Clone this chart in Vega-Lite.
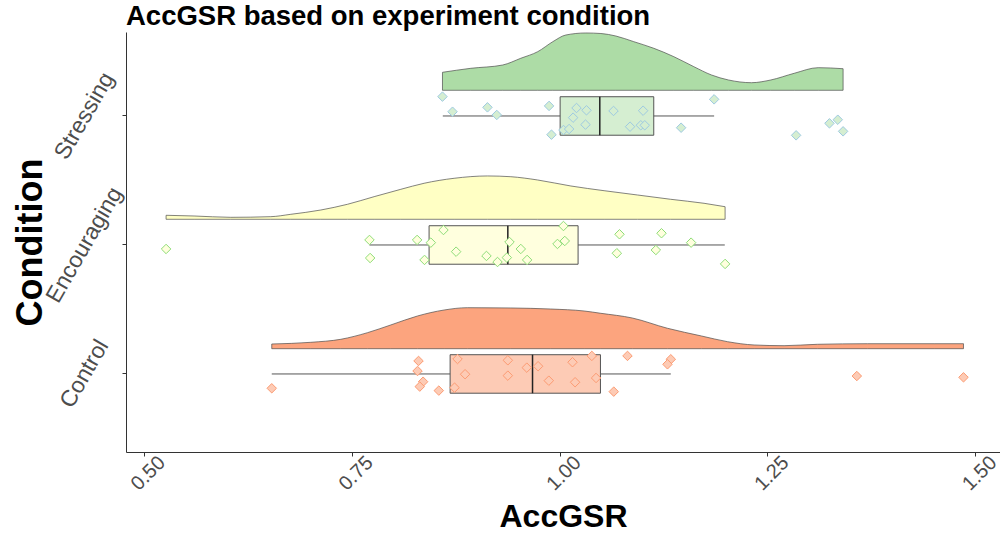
{
  "$schema": "https://vega.github.io/schema/vega-lite/v6.json",
  "width": 874,
  "height": 420,
  "autosize": "none",
  "padding": {"left": 126, "top": 32, "right": 0, "bottom": 84},
  "title": {"text": "AccGSR based on experiment condition", "anchor": "start", "frame": "group", "fontSize": 27.5, "fontWeight": "bold", "color": "#000000", "font": "Liberation Sans", "offset": 1},
  "config": {
    "view": {"stroke": null},
    "font": "Liberation Sans",
    "axisX": {"grid": false, "labelAngle": -45, "labelAlign": "center", "labelBaseline": "middle", "labelPadding": 17, "labelOffset": 4, "labelFontSize": 20, "labelColor": "#4D4D4D", "tickSize": 4, "tickColor": "#333333", "domainColor": "#333333", "titleFontSize": 32, "titleFontWeight": "bold", "titleColor": "#000000", "titlePadding": 8},
    "axisY": {"grid": false, "labelAngle": -60, "labelAlign": "center", "labelBaseline": "middle", "labelPadding": 38, "labelFontSize": 23, "labelColor": "#4D4D4D", "labelOverlap": false, "tickSize": 4, "tickColor": "#333333", "domainColor": "#333333", "titleFontSize": 36, "titleFontWeight": "bold", "titleColor": "#000000", "titleX": -96, "titleY": 210, "titleBaseline": "middle", "titleAlign": "center", "titleAngle": -90}
  },
  "datasets": {
    "points": [
      {"condition": "Control", "AccGSR": 0.6539, "jitter": -0.111},
      {"condition": "Control", "AccGSR": 0.8304, "jitter": 0.101},
      {"condition": "Control", "AccGSR": 0.8292, "jitter": 0.023},
      {"condition": "Control", "AccGSR": 0.8359, "jitter": -0.06},
      {"condition": "Control", "AccGSR": 0.8319, "jitter": -0.098},
      {"condition": "Control", "AccGSR": 0.8548, "jitter": -0.129},
      {"condition": "Control", "AccGSR": 0.8773, "jitter": 0.116},
      {"condition": "Control", "AccGSR": 0.8864, "jitter": -0.002},
      {"condition": "Control", "AccGSR": 0.8737, "jitter": -0.106},
      {"condition": "Control", "AccGSR": 0.9378, "jitter": 0.106},
      {"condition": "Control", "AccGSR": 0.9378, "jitter": -0.013},
      {"condition": "Control", "AccGSR": 0.9606, "jitter": 0.049},
      {"condition": "Control", "AccGSR": 0.9742, "jitter": 0.06},
      {"condition": "Control", "AccGSR": 0.9871, "jitter": -0.052},
      {"condition": "Control", "AccGSR": 1.0156, "jitter": 0.091},
      {"condition": "Control", "AccGSR": 1.0187, "jitter": -0.064},
      {"condition": "Control", "AccGSR": 1.0388, "jitter": 0.14},
      {"condition": "Control", "AccGSR": 1.0439, "jitter": -0.031},
      {"condition": "Control", "AccGSR": 1.0652, "jitter": -0.137},
      {"condition": "Control", "AccGSR": 1.0817, "jitter": 0.14},
      {"condition": "Control", "AccGSR": 1.1338, "jitter": 0.114},
      {"condition": "Control", "AccGSR": 1.1298, "jitter": 0.075},
      {"condition": "Control", "AccGSR": 1.3575, "jitter": -0.016},
      {"condition": "Control", "AccGSR": 1.4858, "jitter": -0.026},
      {"condition": "Encouraging", "AccGSR": 0.5268, "jitter": -0.031},
      {"condition": "Encouraging", "AccGSR": 0.7714, "jitter": 0.039},
      {"condition": "Encouraging", "AccGSR": 0.7722, "jitter": -0.101},
      {"condition": "Encouraging", "AccGSR": 0.8287, "jitter": 0.039},
      {"condition": "Encouraging", "AccGSR": 0.8376, "jitter": -0.116},
      {"condition": "Encouraging", "AccGSR": 0.8452, "jitter": 0.018},
      {"condition": "Encouraging", "AccGSR": 0.8604, "jitter": 0.116},
      {"condition": "Encouraging", "AccGSR": 0.8756, "jitter": -0.052},
      {"condition": "Encouraging", "AccGSR": 0.9121, "jitter": -0.085},
      {"condition": "Encouraging", "AccGSR": 0.9254, "jitter": -0.132},
      {"condition": "Encouraging", "AccGSR": 0.9366, "jitter": -0.098},
      {"condition": "Encouraging", "AccGSR": 0.9398, "jitter": 0.023},
      {"condition": "Encouraging", "AccGSR": 0.9534, "jitter": -0.031},
      {"condition": "Encouraging", "AccGSR": 0.961, "jitter": -0.116},
      {"condition": "Encouraging", "AccGSR": 1.0047, "jitter": 0.147},
      {"condition": "Encouraging", "AccGSR": 0.9975, "jitter": 0.008},
      {"condition": "Encouraging", "AccGSR": 1.0063, "jitter": 0.031},
      {"condition": "Encouraging", "AccGSR": 1.0721, "jitter": 0.083},
      {"condition": "Encouraging", "AccGSR": 1.0689, "jitter": -0.064},
      {"condition": "Encouraging", "AccGSR": 1.1226, "jitter": 0.091},
      {"condition": "Encouraging", "AccGSR": 1.1158, "jitter": -0.039},
      {"condition": "Encouraging", "AccGSR": 1.1582, "jitter": 0.018},
      {"condition": "Encouraging", "AccGSR": 1.1991, "jitter": -0.147},
      {"condition": "Stressing", "AccGSR": 0.8592, "jitter": 0.15},
      {"condition": "Stressing", "AccGSR": 0.8713, "jitter": 0.033},
      {"condition": "Stressing", "AccGSR": 0.9133, "jitter": 0.067},
      {"condition": "Stressing", "AccGSR": 0.9245, "jitter": 0.008},
      {"condition": "Stressing", "AccGSR": 0.9874, "jitter": 0.078},
      {"condition": "Stressing", "AccGSR": 0.9903, "jitter": -0.145},
      {"condition": "Stressing", "AccGSR": 1.0047, "jitter": -0.109},
      {"condition": "Stressing", "AccGSR": 1.0115, "jitter": -0.101},
      {"condition": "Stressing", "AccGSR": 1.0163, "jitter": -0.013},
      {"condition": "Stressing", "AccGSR": 1.0204, "jitter": 0.062},
      {"condition": "Stressing", "AccGSR": 1.0324, "jitter": 0.044},
      {"condition": "Stressing", "AccGSR": 1.0312, "jitter": -0.067},
      {"condition": "Stressing", "AccGSR": 1.0649, "jitter": 0.039},
      {"condition": "Stressing", "AccGSR": 1.0848, "jitter": -0.083},
      {"condition": "Stressing", "AccGSR": 1.1005, "jitter": 0.041},
      {"condition": "Stressing", "AccGSR": 1.0977, "jitter": -0.072},
      {"condition": "Stressing", "AccGSR": 1.1025, "jitter": -0.072},
      {"condition": "Stressing", "AccGSR": 1.1859, "jitter": 0.129},
      {"condition": "Stressing", "AccGSR": 1.1462, "jitter": -0.091},
      {"condition": "Stressing", "AccGSR": 1.2845, "jitter": -0.15},
      {"condition": "Stressing", "AccGSR": 1.3246, "jitter": -0.057},
      {"condition": "Stressing", "AccGSR": 1.3346, "jitter": -0.029},
      {"condition": "Stressing", "AccGSR": 1.341, "jitter": -0.119}
    ],
    "box": [
      {"condition": "Control", "lower": 0.6539, "q1": 0.8684, "median": 0.9675, "q3": 1.0492, "upper": 1.1338},
      {"condition": "Encouraging", "lower": 0.7714, "q1": 0.8431, "median": 0.9378, "q3": 1.0223, "upper": 1.1987},
      {"condition": "Stressing", "lower": 0.8596, "q1": 1.0007, "median": 1.0484, "q3": 1.1133, "upper": 1.1859}
    ],
    "densControl": [
      {"AccGSR": 0.6539, "density": 0.081},
      {"AccGSR": 0.7008, "density": 0.11},
      {"AccGSR": 0.7369, "density": 0.162},
      {"AccGSR": 0.769, "density": 0.276},
      {"AccGSR": 0.797, "density": 0.409},
      {"AccGSR": 0.8292, "density": 0.564},
      {"AccGSR": 0.8612, "density": 0.667},
      {"AccGSR": 0.8893, "density": 0.707},
      {"AccGSR": 0.9414, "density": 0.702},
      {"AccGSR": 0.9895, "density": 0.684},
      {"AccGSR": 1.0295, "density": 0.65},
      {"AccGSR": 1.0497, "density": 0.61},
      {"AccGSR": 1.0875, "density": 0.529},
      {"AccGSR": 1.1298, "density": 0.352},
      {"AccGSR": 1.1707, "density": 0.219},
      {"AccGSR": 1.202, "density": 0.121},
      {"AccGSR": 1.234, "density": 0.064},
      {"AccGSR": 1.27, "density": 0.052},
      {"AccGSR": 1.3102, "density": 0.076},
      {"AccGSR": 1.3703, "density": 0.086},
      {"AccGSR": 1.4505, "density": 0.086},
      {"AccGSR": 1.4858, "density": 0.086}
    ],
    "densEncouraging": [
      {"AccGSR": 0.5268, "density": 0.069},
      {"AccGSR": 0.5605, "density": 0.057},
      {"AccGSR": 0.6046, "density": 0.034},
      {"AccGSR": 0.6527, "density": 0.045},
      {"AccGSR": 0.6768, "density": 0.086},
      {"AccGSR": 0.7129, "density": 0.16},
      {"AccGSR": 0.745, "density": 0.259},
      {"AccGSR": 0.777, "density": 0.39},
      {"AccGSR": 0.8091, "density": 0.517},
      {"AccGSR": 0.8371, "density": 0.621},
      {"AccGSR": 0.8732, "density": 0.707},
      {"AccGSR": 0.9134, "density": 0.747},
      {"AccGSR": 0.9414, "density": 0.734},
      {"AccGSR": 0.9735, "density": 0.678},
      {"AccGSR": 1.0136, "density": 0.574},
      {"AccGSR": 1.0536, "density": 0.493},
      {"AccGSR": 1.0937, "density": 0.419},
      {"AccGSR": 1.1335, "density": 0.345},
      {"AccGSR": 1.1738, "density": 0.276},
      {"AccGSR": 1.1991, "density": 0.217}
    ],
    "densStressing": [
      {"AccGSR": 0.8592, "density": 0.31},
      {"AccGSR": 0.8933, "density": 0.379},
      {"AccGSR": 0.9317, "density": 0.436},
      {"AccGSR": 0.9534, "density": 0.552},
      {"AccGSR": 0.9738, "density": 0.666},
      {"AccGSR": 0.9919, "density": 0.838},
      {"AccGSR": 1.0075, "density": 0.953},
      {"AccGSR": 1.0316, "density": 0.988},
      {"AccGSR": 1.0497, "density": 0.979},
      {"AccGSR": 1.0677, "density": 0.936},
      {"AccGSR": 1.0893, "density": 0.838},
      {"AccGSR": 1.1134, "density": 0.724},
      {"AccGSR": 1.1375, "density": 0.579},
      {"AccGSR": 1.1615, "density": 0.407},
      {"AccGSR": 1.1827, "density": 0.264},
      {"AccGSR": 1.2031, "density": 0.178},
      {"AccGSR": 1.2308, "density": 0.131},
      {"AccGSR": 1.2541, "density": 0.178},
      {"AccGSR": 1.2822, "density": 0.293},
      {"AccGSR": 1.3111, "density": 0.39},
      {"AccGSR": 1.341, "density": 0.372}
    ]
  },
  "resolve": {"scale": {"y": "independent"}, "axis": {"y": "independent"}},
  "layer": [
    {
      "data": {"name": "densControl"},
      "mark": {"type": "area", "orient": "vertical", "interpolate": "monotone", "fill": "#FCA47E", "stroke": "#4D4D4D", "strokeWidth": 0.7},
      "encoding": {
        "x": {"field": "AccGSR", "type": "quantitative", "title": "AccGSR", "scale": {"domain": [0.4786, 1.5297], "nice": false, "zero": false}, "axis": {"values": [0.5, 0.75, 1, 1.25, 1.5], "format": ".2f"}},
        "y": {"field": "density", "type": "quantitative", "axis": null, "scale": {"domain": [-1.781, 5.46], "nice": false, "zero": false}},
        "y2": {"datum": 0}
      }
    },
    {
      "data": {"name": "densEncouraging"},
      "mark": {"type": "area", "orient": "vertical", "interpolate": "monotone", "fill": "#FFFFC4", "stroke": "#4D4D4D", "strokeWidth": 0.7},
      "encoding": {
        "x": {"field": "AccGSR", "type": "quantitative", "title": "AccGSR"},
        "y": {"field": "density", "type": "quantitative", "axis": null, "scale": {"domain": [-4.012, 3.229], "nice": false, "zero": false}},
        "y2": {"datum": 0}
      }
    },
    {
      "data": {"name": "densStressing"},
      "mark": {"type": "area", "orient": "vertical", "interpolate": "monotone", "fill": "#ADDCA6", "stroke": "#4D4D4D", "strokeWidth": 0.7},
      "encoding": {
        "x": {"field": "AccGSR", "type": "quantitative", "title": "AccGSR"},
        "y": {"field": "density", "type": "quantitative", "axis": null, "scale": {"domain": [-6.236, 1.005], "nice": false, "zero": false}},
        "y2": {"datum": 0}
      }
    },
    {
      "data": {"name": "box"},
      "mark": {"type": "rule", "color": "#555555", "strokeWidth": 1},
      "encoding": {
        "x": {"field": "lower", "type": "quantitative", "title": "AccGSR"},
        "x2": {"field": "upper"},
        "y": {"field": "condition", "type": "nominal", "bandPosition": 0.5, "axis": null, "scale": {"type": "band", "domain": ["Stressing", "Encouraging", "Control"], "paddingInner": 0, "paddingOuter": 0.128, "align": 0.59}}
      }
    },
    {
      "data": {"name": "box"},
      "mark": {"type": "bar", "height": 38.5, "stroke": "#555555", "strokeWidth": 1},
      "encoding": {
        "x": {"field": "q1", "type": "quantitative", "title": "AccGSR"},
        "x2": {"field": "q3"},
        "y": {"field": "condition", "type": "nominal", "title": "Condition", "scale": {"type": "band", "domain": ["Stressing", "Encouraging", "Control"], "paddingInner": 0, "paddingOuter": 0.128, "align": 0.59}},
        "fill": {"field": "condition", "type": "nominal", "legend": null, "scale": {"domain": ["Control", "Encouraging", "Stressing"], "range": ["#FDCBB5", "#FFFFDE", "#D5EED1"]}}
      }
    },
    {
      "data": {"name": "box"},
      "mark": {"type": "tick", "orient": "vertical", "size": 38.5, "thickness": 1.5, "color": "#222222", "opacity": 1},
      "encoding": {
        "x": {"field": "median", "type": "quantitative", "title": "AccGSR"},
        "y": {"field": "condition", "type": "nominal", "axis": null, "scale": {"type": "band", "domain": ["Stressing", "Encouraging", "Control"], "paddingInner": 0, "paddingOuter": 0.128, "align": 0.59}}
      }
    },
    {
      "data": {"name": "points"},
      "mark": {"type": "point", "shape": "diamond", "filled": true, "size": 90, "strokeWidth": 1, "opacity": 1},
      "encoding": {
        "x": {"field": "AccGSR", "type": "quantitative", "title": "AccGSR"},
        "y": {"field": "condition", "type": "nominal", "axis": null, "scale": {"type": "band", "domain": ["Stressing", "Encouraging", "Control"], "paddingInner": 0, "paddingOuter": 0.128, "align": 0.59}},
        "yOffset": {"field": "jitter", "type": "quantitative", "scale": {"domain": [-0.5, 0.5], "reverse": true, "nice": false, "zero": false}},
        "fill": {"field": "condition", "type": "nominal", "legend": null, "scale": {"domain": ["Control", "Encouraging", "Stressing"], "range": ["#FC956A", "#FFFFB8", "#9CD497"]}},
        "stroke": {"field": "condition", "type": "nominal", "legend": null, "scale": {"domain": ["Control", "Encouraging", "Stressing"], "range": ["#FC9B72", "#8EDD78", "#9ECAE1"]}}
      }
    }
  ]
}
